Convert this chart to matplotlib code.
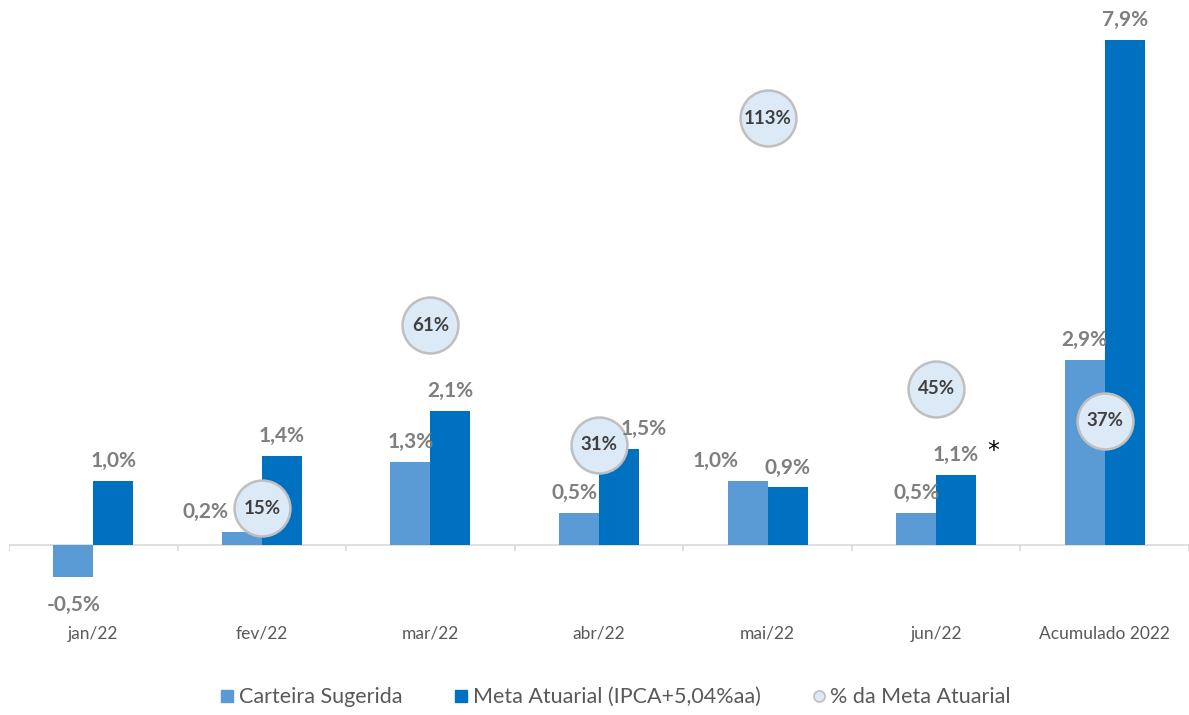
import numpy as np
import matplotlib.pyplot as plt
from matplotlib.lines import Line2D

# ── data ──
categories = ["jan/22", "fev/22", "mar/22", "abr/22", "mai/22", "jun/22", "Acumulado 2022"]
carteira = [-0.5, 0.2, 1.3, 0.5, 1.0, 0.5, 2.9]
meta = [1.0, 1.4, 2.1, 1.5, 0.9, 1.1, 7.9]
pct_meta = [np.nan, 15, 61, 31, 113, 45, 37]   # jan fora da escala (negativo)

# deslocamentos manuais dos rótulos (pt), como no original
carteira_dx = [0, -26, 0, -3, -23, 0, 0]
meta_dx = [0, 0, 0, 18, 0, 0, 0]

c_light = '#5b9bd5'
c_dark = '#0070c0'
c_lbl = '#7f7f7f'
c_txt = '#595959'

plt.rcParams['font.family'] = ['Lato', 'DejaVu Sans']

fig = plt.figure(figsize=(11.89, 7.15), dpi=100)
W, H = 1189, 715
ax_bot, ax_top = 620, 20
ax = fig.add_axes([9 / W, (H - ax_bot) / H, 1180 / W, (ax_bot - ax_top) / H])

x = np.arange(len(categories))
w = 0.237
ax.bar(x - w / 2, carteira, w, color=c_light, zorder=2)
ax.bar(x + w / 2, meta, w, color=c_dark, zorder=2)

# escala primária: zero em y=545 px, 63.9 px por 1%
ppu = 63.9
ax.set_ylim(-(ax_bot - 545) / ppu, (545 - ax_top) / ppu)
ax.set_xlim(-0.5, len(categories) - 0.5)

ax.axhline(0, color='#d9d9d9', lw=1.2, zorder=1)
ax.vlines(np.arange(len(categories) + 1) - 0.5, 0, -6 / ppu, color='#d9d9d9', lw=1.2)

# rótulos de categoria na parte de baixo
ax.set_xticks(x)
ax.set_xticklabels(categories, fontsize=12.5, color=c_txt)
ax.tick_params(axis='x', length=0, pad=4)
ax.set_yticks([])
for s in ax.spines.values():
    s.set_visible(False)

# eixo secundário para "% da Meta Atuarial": zero em y=568 px, 3.98 px por %
ax2 = ax.twinx()
ppp = 3.98
ax2.set_ylim(-(ax_bot - 568) / ppp, (568 - ax_top) / ppp)
ax2.set_yticks([])
for s in ax2.spines.values():
    s.set_visible(False)

ax2.scatter(x, pct_meta, s=1620, color='#dce9f6', edgecolor='#bfbfbf', linewidth=1.8, zorder=4)
for xi, p in zip(x, pct_meta):
    if not np.isnan(p):
        ax2.text(xi, p, f"{p:.0f}%", ha='center', va='center', fontsize=13.5,
                 fontweight='bold', color='#404040', zorder=5)

# rótulos de valor (desenhados por cima dos círculos)
def fmt(v):
    return f"{v:.1f}%".replace('.', ',')

for xi, v, dx in zip(x, carteira, carteira_dx):
    if v >= 0:
        ax2.annotate(fmt(v), (xi - w / 2, v), xycoords=ax.transData, xytext=(dx, 10),
                     textcoords='offset points', ha='center', va='baseline',
                     fontsize=15, fontweight='bold', color=c_lbl, zorder=6)
    else:
        ax2.annotate(fmt(v), (xi - w / 2, v), xycoords=ax.transData, xytext=(dx, -13),
                     textcoords='offset points', ha='center', va='top',
                     fontsize=15, fontweight='bold', color=c_lbl, zorder=6)

for xi, v, dx in zip(x, meta, meta_dx):
    ax2.annotate(fmt(v), (xi + w / 2, v), xycoords=ax.transData, xytext=(dx, 10),
                 textcoords='offset points', ha='center', va='baseline',
                 fontsize=15, fontweight='bold', color=c_lbl, zorder=6)

# asterisco ao lado de jun/22
ax2.annotate("*", (x[5] + w / 2, meta[5]), xycoords=ax.transData, xytext=(27, 17),
             textcoords='offset points', ha='center', va='center', fontsize=17,
             family='DejaVu Sans', color='black', zorder=6)

# legenda
handles = [
    Line2D([], [], marker='s', ls='', markersize=9, color=c_light),
    Line2D([], [], marker='s', ls='', markersize=9, color=c_dark),
    Line2D([], [], marker='o', ls='', markersize=8, markerfacecolor='#dce9f6',
           markeredgecolor='#bfbfbf', markeredgewidth=1.2),
]
fig.legend(handles, ["Carteira Sugerida", "Meta Atuarial (IPCA+5,04%aa)", "% da Meta Atuarial"],
           loc='center', bbox_to_anchor=(0.517, 0.025), ncol=3, frameon=False,
           fontsize=15.5, labelcolor=c_txt, handletextpad=0.15, columnspacing=2.3,
           handlelength=0.8)

fig.savefig("out.png", dpi=100)
